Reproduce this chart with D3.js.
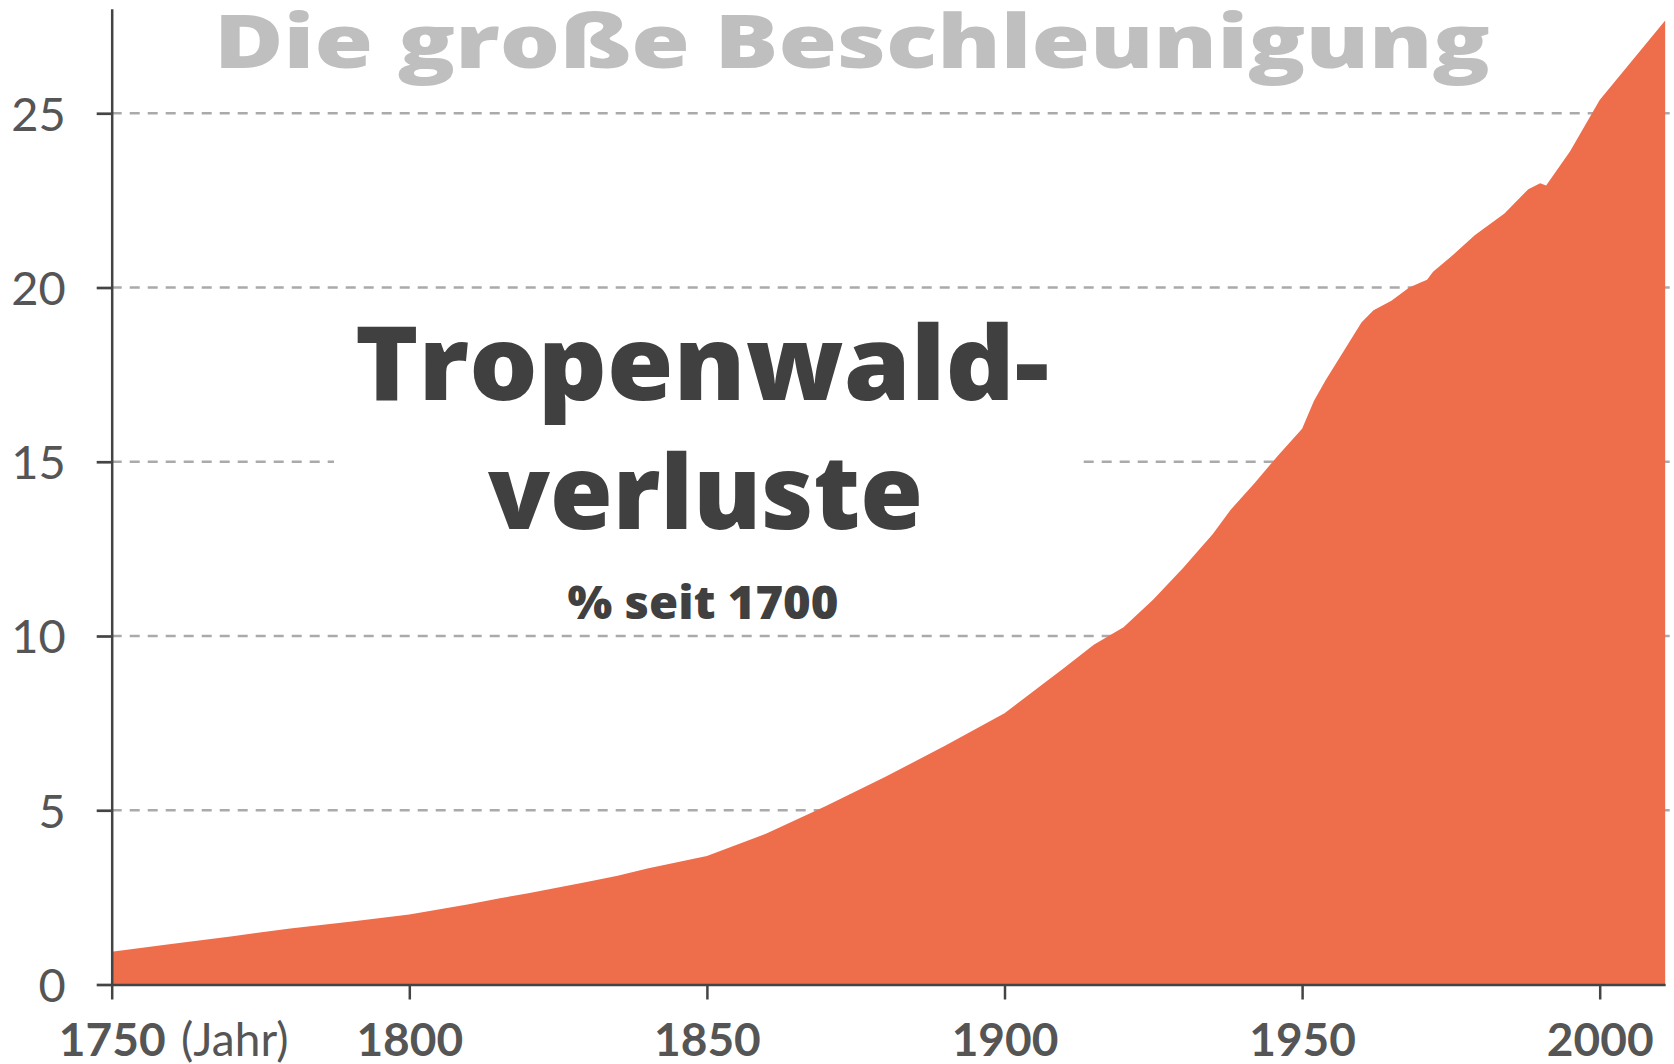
<!DOCTYPE html>
<html>
<head>
<meta charset="utf-8">
<script src="https://cdn.jsdelivr.net/npm/d3@7"></script>
<style>
  body { margin: 0; background: #fff; }
  svg { display: block; }
</style>
</head>
<body>
<div id="chart"></div>
<script>
// Tropenwaldverluste in % seit 1700
const years = [1750, 1760, 1770, 1780, 1790, 1800, 1810, 1815, 1820, 1830, 1835, 1840, 1850,
  1860, 1870, 1880, 1890, 1900, 1910, 1915, 1920, 1925, 1930, 1935, 1938, 1942, 1946, 1950,
  1952, 1954, 1957, 1960, 1962, 1965, 1968, 1970, 1971, 1972, 1975, 1979, 1984, 1988, 1990,
  1991, 1995, 2000, 2011];
const loss = [0.94, 1.16, 1.38, 1.61, 1.80, 2.01, 2.30, 2.47, 2.62, 2.95, 3.12, 3.33, 3.69,
  4.33, 5.12, 5.96, 6.85, 7.78, 9.08, 9.75, 10.25, 11.05, 11.95, 12.93, 13.62, 14.38, 15.19, 15.95,
  16.75, 17.35, 18.18, 19.0, 19.35, 19.62, 20.0, 20.15, 20.22, 20.45, 20.88, 21.5, 22.12, 22.82, 22.99,
  22.93, 23.9, 25.38, 27.66];
const yTicks = [0, 5, 10, 15, 20, 25];
const xTicks = [1750, 1800, 1850, 1900, 1950, 2000];

const data = years.map((d, i) => ({ year: d, value: loss[i] }));

var width = 1674, height = 1064;
var margin = { top: 8.7, right: 8, bottom: 79.5, left: 111.7 };

var svg = d3.select("#chart").append("svg")
  .attr("width", width)
  .attr("height", height);

var x = d3.scaleLinear()
  .domain([1750, 2011])
  .range([margin.left, margin.left + 261 * 5.952]);
var y = d3.scaleLinear()
  .domain([0, 28])
  .range([height - margin.bottom, margin.top]);

// dashed grid
svg.append("g")
  .selectAll("line")
  .data(yTicks.filter(d => d > 0))
  .enter()
  .append("line")
  .attr("x1", margin.left)
  .attr("x2", width)
  .attr("y1", d => y(d))
  .attr("y2", d => y(d))
  .attr("stroke", "#aaaaaa")
  .attr("stroke-width", 2.5)
  .attr("stroke-dasharray", "10,8");

// title
svg.append("text")
  .attr("x", 852)
  .attr("y", 68)
  .attr("text-anchor", "middle")
  .attr("font-family", "'Open Sans', sans-serif")
  .attr("font-weight", 800)
  .attr("font-size", 74)
  .attr("fill", "#bfbfbf")
  .attr("textLength", 1276)
  .attr("lengthAdjust", "spacingAndGlyphs")
  .text("Die große Beschleunigung");

// white box behind the label, cuts the 15 line
var boxG = svg.append("g");

var area = d3.area()
  .x(d => x(d.year))
  .y0(y(0))
  .y1(d => y(d.value));

svg.append("path")
  .datum(data)
  .attr("d", area)
  .attr("fill", "#ee6d4b");

var label = svg.append("g")
  .attr("font-family", "'Open Sans', sans-serif")
  .attr("font-weight", 800)
  .attr("fill", "#404040")
  .attr("text-anchor", "middle");

const labelLines = [
  { t: "Tropenwald-", x: 702, y: 400, size: 103, len: 694 },
  { t: "verluste", x: 705.5, y: 529, size: 103, len: 435 },
  { t: "% seit 1700", x: 703, y: 619, size: 46, len: 271 },
];
label.selectAll("text")
  .data(labelLines)
  .enter()
  .append("text")
  .attr("x", d => d.x)
  .attr("y", d => d.y)
  .attr("font-size", d => d.size)
  .attr("textLength", d => d.len)
  .attr("lengthAdjust", "spacingAndGlyphs")
  .text(d => d.t);

var bb = label.node().getBBox();
boxG.append("rect")
  .attr("x", bb.x - 21)
  .attr("width", bb.width + 51)
  .attr("y", y(15) - 20)
  .attr("height", 40)
  .attr("fill", "#fff");

// y axis
var yAxis = svg.append("g")
  .attr("transform", "translate(" + margin.left + ",0)")
  .call(d3.axisLeft(y).tickValues(yTicks).tickSize(15).tickSizeOuter(0).tickPadding(31));
yAxis.select(".domain").attr("stroke", "#444").attr("stroke-width", 2.5);
yAxis.selectAll(".tick line").attr("stroke", "#444").attr("stroke-width", 2.7);
yAxis.selectAll("text")
  .attr("font-family", "Lato, sans-serif")
  .attr("font-size", 47)
  .attr("fill", "#555")
  .attr("dy", "0.36em");

// x axis
var xAxis = svg.append("g")
  .attr("transform", "translate(0," + y(0) + ")")
  .call(d3.axisBottom(x).tickValues(xTicks).tickFormat(d3.format("d")).tickSize(15).tickSizeOuter(0));
xAxis.select(".domain").attr("stroke", "#444").attr("stroke-width", 2.7);
xAxis.selectAll(".tick line").attr("stroke", "#444").attr("stroke-width", 2.5);
xAxis.selectAll("text")
  .attr("font-family", "Lato, sans-serif")
  .attr("font-weight", 700)
  .attr("font-size", 46)
  .attr("fill", "#555")
  .attr("y", 71.5)
  .attr("dy", 0);

var firstTick = xAxis.select(".tick text").node();
var fw = firstTick.getComputedTextLength();
xAxis.append("text")
  .attr("x", x(1750) + fw / 2 + 16)
  .attr("y", 71.5)
  .attr("font-family", "Lato, sans-serif")
  .attr("font-size", 46)
  .attr("fill", "#555")
  .attr("text-anchor", "start")
  .text("(Jahr)");
</script>
</body>
</html>
